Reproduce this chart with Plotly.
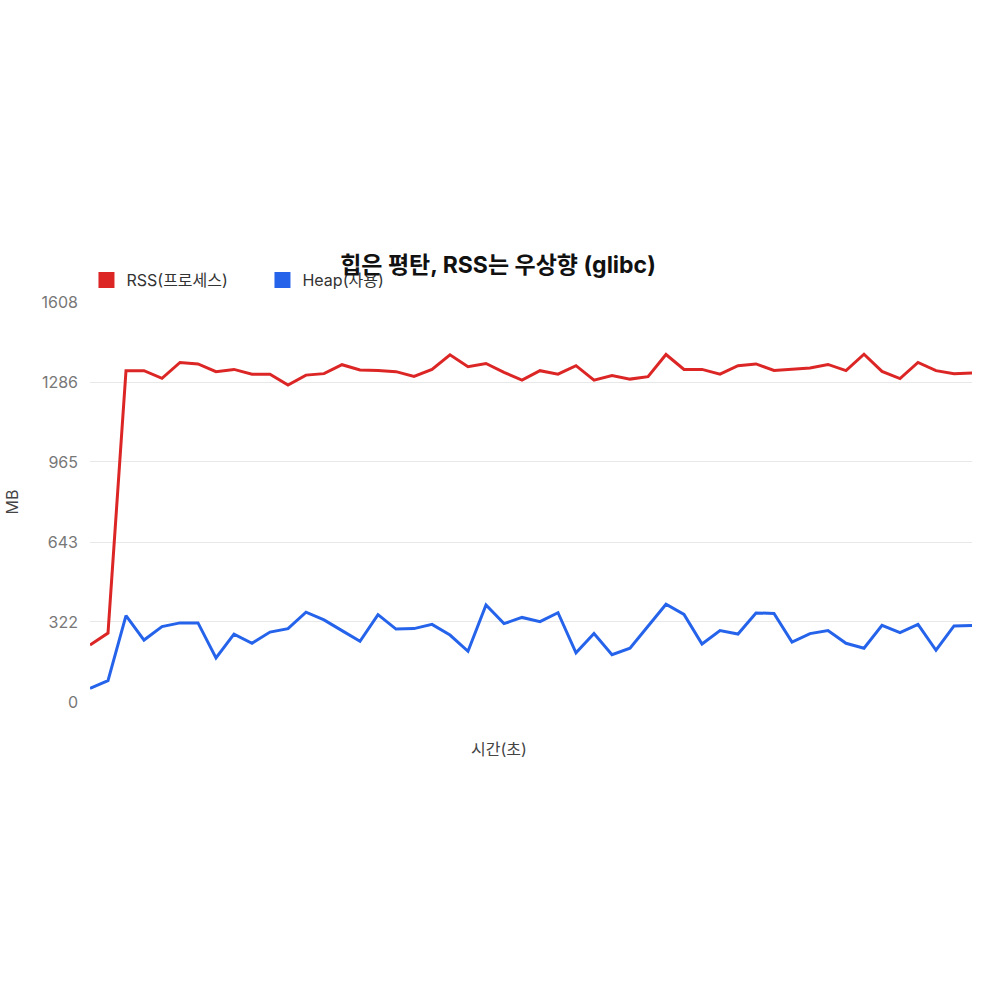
import plotly.graph_objects as go

seconds = list(range(50))
rss_mb = [229, 277, 1332, 1332, 1301, 1365, 1359, 1328, 1337, 1318,
          1318, 1274, 1314, 1320, 1356, 1335, 1333, 1328, 1309, 1337,
          1396, 1348, 1361, 1325, 1294, 1332, 1318, 1352, 1294, 1312,
          1298, 1308, 1397, 1337, 1337, 1318, 1352, 1359, 1333, 1339,
          1343, 1357, 1332, 1398, 1329, 1300, 1365, 1332, 1320, 1323]
heap_mb = [55, 86, 347, 249, 303, 318, 318, 177, 273, 236,
           281, 295, 361, 330, 287, 244, 351, 293, 295, 312,
           269, 204, 390, 315, 340, 323, 359, 198, 275, 190,
           216, 306, 393, 352, 233, 287, 273, 358, 356, 241,
           275, 287, 236, 216, 308, 279, 312, 208, 306, 308]
y_ticks = [0, 322, 643, 965, 1286, 1608]
series_names = ["RSS(프로세스)", "Heap(사용)"]
colors = ["#dc2626", "#2563eb"]

FONT = "Inter, 'Noto Sans CJK KR', sans-serif"

fig = go.Figure()
for name, vals, col in zip(series_names, [rss_mb, heap_mb], colors):
    fig.add_trace(go.Scatter(x=seconds, y=vals, mode="lines", name=name,
                             line=dict(color=col, width=3), showlegend=False,
                             hoverinfo="x+y"))
for name, col in zip(series_names, colors):
    fig.add_trace(go.Scatter(x=[None], y=[None], mode="markers", name=name,
                             marker=dict(symbol="square", size=19, color=col),
                             showlegend=True))

fig.update_layout(
    width=1000, height=1000,
    paper_bgcolor="white", plot_bgcolor="white",
    margin=dict(l=90, r=28, t=302, b=298),
    font=dict(family=FONT, size=16, color="#666666"),
    title=dict(text="<b>힙은 평탄, RSS는 우상향 (glibc)</b>",
               x=0.498, xanchor="center", y=0.735, yanchor="middle",
               font=dict(family=FONT, size=23, color="#111111")),
    legend=dict(orientation="h", x=-0.004, xanchor="left", y=1.055, yanchor="middle",
                font=dict(family=FONT, size=16, color="#333333"),
                entrywidth=131, entrywidthmode="pixels",
                bgcolor="rgba(0,0,0,0)"),
    xaxis=dict(range=[0, 49], showticklabels=False, showgrid=False,
               zeroline=False, showline=False, ticks=""),
    yaxis=dict(range=[0, 1608], tickvals=y_ticks, ticktext=[str(v) for v in y_ticks],
               showgrid=True, gridcolor="#e8e8e8", gridwidth=1,
               zeroline=False, showline=False, ticks="",
               ticklabelstandoff=11,
               tickfont=dict(size=16, color="#777777"),
               title=dict(text="MB", font=dict(size=16, color="#444444"), standoff=18)),
    annotations=[dict(text="시간(초)", xref="paper", yref="paper",
                      x=(499 - 90) / 882, y=-47 / 400, xanchor="center", yanchor="middle",
                      showarrow=False, font=dict(family=FONT, size=16, color="#444444"))],
)

fig.write_html("out.html")
